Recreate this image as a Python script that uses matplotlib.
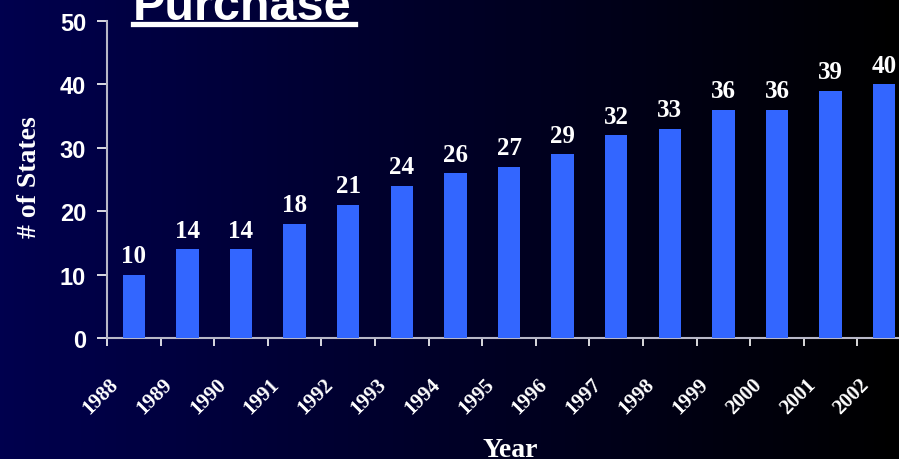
import numpy as np
import matplotlib
matplotlib.use('Agg')
import matplotlib.pyplot as plt
from matplotlib.transforms import ScaledTranslation
from matplotlib.lines import Line2D

years = ['1988', '1989', '1990', '1991', '1992', '1993', '1994', '1995',
         '1996', '1997', '1998', '1999', '2000', '2001', '2002']
states = [10, 14, 14, 18, 21, 24, 26, 27, 29, 32, 33, 36, 36, 39, 40]
y_ticks = [0, 10, 20, 30, 40, 50]

serif = 'Liberation Serif'
sans = 'Liberation Sans'

fig = plt.figure(figsize=(8.99, 4.6), dpi=100)

# gradient background, navy on the left fading to black on the right
bg = fig.add_axes([0, 0, 1, 1], zorder=-10)
grad = np.linspace(0, 1, 256).reshape(1, -1)
left = np.array([0, 0, 78]) / 255
right = np.array([0, 0, 0]) / 255
img = left[None, None, :] * (1 - grad[..., None]) + right[None, None, :] * grad[..., None]
bg.imshow(img, aspect='auto', extent=[0, 1, 0, 1])
bg.axis('off')

ax = fig.add_axes([107 / 899, 1 - 339 / 460, 804 / 899, (339 - 22) / 460])
ax.patch.set_alpha(0)

x = np.arange(len(years))
ax.bar(x, states, width=0.42, color='#3366FF', zorder=3)

for xi, v in zip(x, states):
    ax.annotate(str(v), (xi, v), xytext=(0, 9), textcoords='offset points',
                ha='center', va='baseline', color='white', fontsize=18,
                fontweight='bold', family=serif)

ax.set_xlim(-0.5, len(years) - 0.5)
ax.set_ylim(0, 50)

# tick marks at category boundaries, labels at the centres
ax.set_xticks(x)
ax.set_xticks(np.arange(-0.5, len(years)), minor=True)
ax.set_yticks(y_ticks)
ax.tick_params(axis='x', which='major', length=0, pad=26)
ax.tick_params(axis='x', which='minor', length=6, width=1.2, color='white', direction='out')
ax.tick_params(axis='y', length=7, width=1.2, color='white', pad=8, direction='out')

ax.set_yticklabels([str(t) for t in y_ticks], fontsize=17, fontweight='bold',
                   family=sans, color='white')
ax.set_xticklabels(years, rotation=45, ha='right', va='top', fontsize=15,
                   fontweight='bold', family=serif, color='white')
shift = ScaledTranslation(-11 / 100, 0, fig.dpi_scale_trans)
for lab in ax.get_xticklabels():
    lab.set_transform(lab.get_transform() + shift)

for s in ['top', 'right']:
    ax.spines[s].set_visible(False)
for s in ['left', 'bottom']:
    ax.spines[s].set_color('#B8B8C8')
    ax.spines[s].set_linewidth(1.5)

fig.text(133 / 899, 1 - 20 / 460, 'Purchase', ha='left', va='baseline',
         fontsize=35, fontweight='bold', family=sans, color='white')
fig.add_artist(Line2D([133 / 899, 355 / 899], [1 - 25 / 460, 1 - 25 / 460],
                      color='white', lw=3.8, transform=fig.transFigure))

fig.text(30 / 899, 1 - 177 / 460, '# of States', ha='center', va='center',
         rotation=90, fontsize=20, fontweight='bold', family=serif, color='white')
fig.text(510 / 899, 1 - 457 / 460, 'Year', ha='center', va='baseline',
         fontsize=20, fontweight='bold', family=serif, color='white')

fig.savefig('out.png', dpi=100)
